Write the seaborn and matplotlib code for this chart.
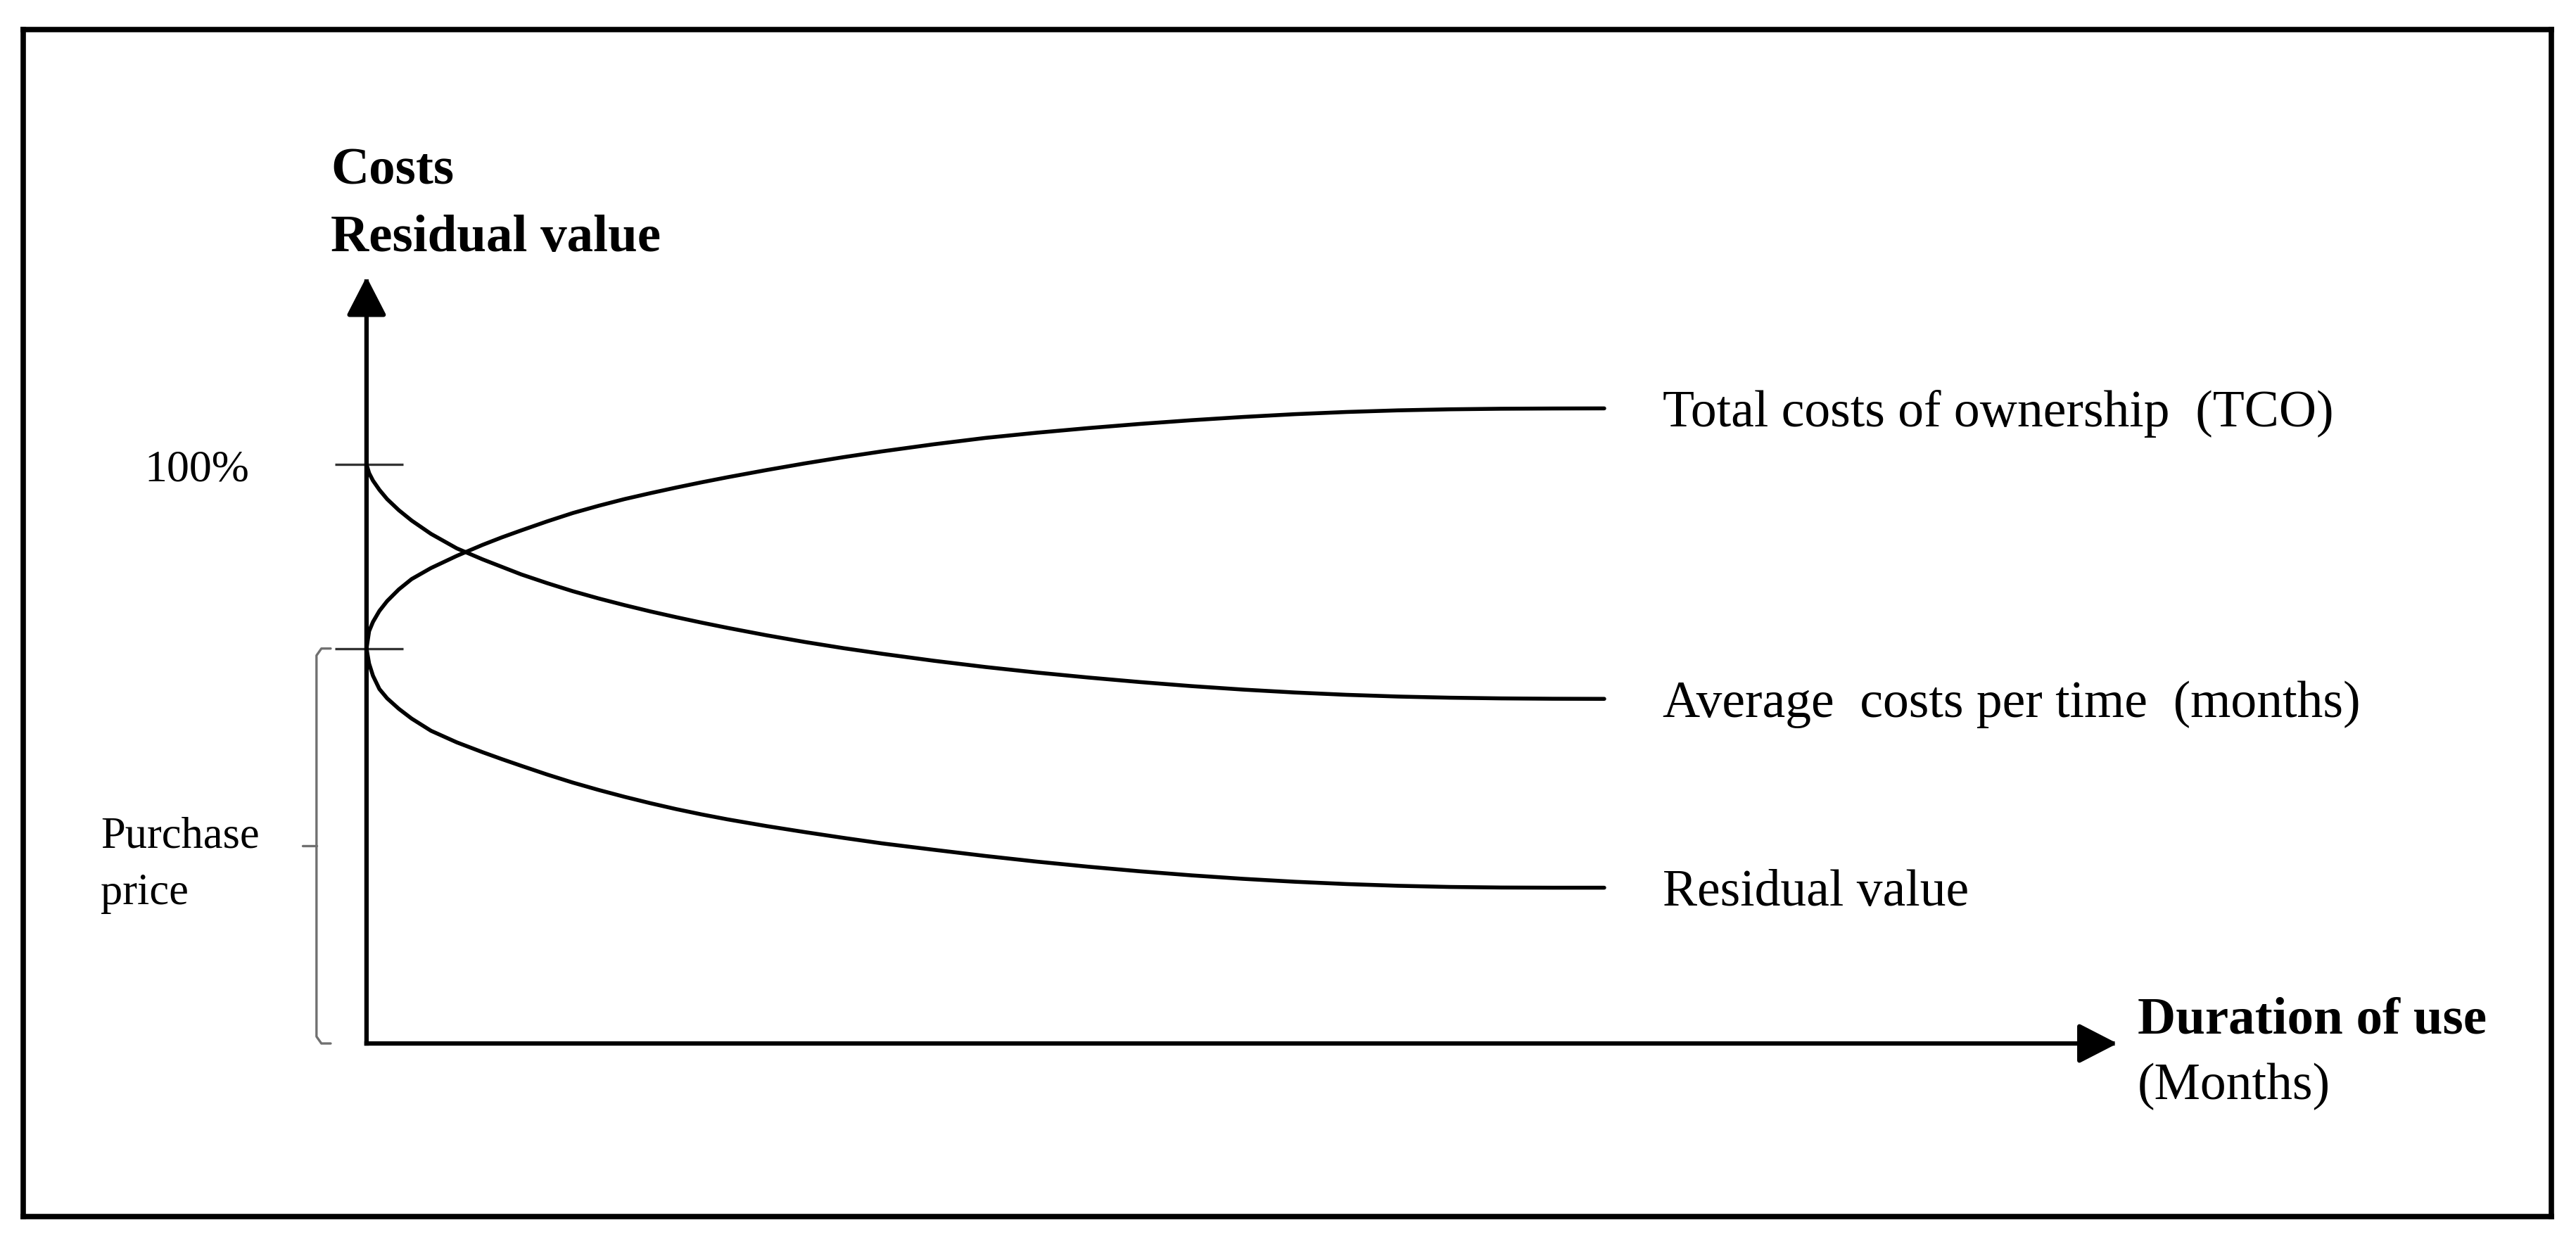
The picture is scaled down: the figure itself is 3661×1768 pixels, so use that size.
import numpy as np
import pandas as pd
import matplotlib.pyplot as plt
import seaborn as sns

# curve readings: duration of use (months) vs. % of the 100% level
months = [0, 0.1, 0.25, 0.5, 0.8, 1.25, 1.75, 2.5, 3.5, 4.5, 5.25, 6, 7, 8, 9, 10,
          11, 12, 13, 14, 15.5, 17, 18.5, 20, 22, 24, 26, 28, 30, 32, 34, 36,
          38, 40, 42, 44, 46, 48]
tco = [68.2, 71.2, 72.8, 74.7, 76.4, 78.4, 80.2, 82.1, 84.2, 86.1, 87.4, 88.6, 90.15,
       91.6, 92.85, 94.0, 95.02, 95.99, 96.91, 97.78, 99.01, 100.17, 101.25, 102.25,
       103.47, 104.57, 105.47, 106.27, 106.99, 107.63, 108.19, 108.67, 109.05, 109.33,
       109.51, 109.61, 109.65, 109.67]
avg_cost = [100.0, 98.5, 97.2, 95.6, 94.0, 92.1, 90.3, 88.0, 85.5, 83.6, 82.3, 81.0,
            79.5, 78.1, 76.85, 75.7, 74.62, 73.62, 72.67, 71.77, 70.5, 69.33, 68.26,
            67.29, 66.09, 65.01, 64.05, 63.19, 62.41, 61.71, 61.11, 60.61, 60.21, 59.91,
            59.71, 59.59, 59.53, 59.51]
residual = [68.2, 65.6, 63.5, 61.2, 59.6, 57.8, 56.1, 54.0, 52.0, 50.3, 49.1, 47.95,
            46.45, 45.05, 43.78, 42.6, 41.5, 40.48, 39.55, 38.7, 37.55, 36.5, 35.5,
            34.55, 33.45, 32.38, 31.4, 30.52, 29.73, 29.03, 28.43, 27.93, 27.53, 27.23,
            27.03, 26.93, 26.9, 26.9]

series_names = ["Total costs of ownership  (TCO)",
                "Average  costs per time  (months)",
                "Residual value"]
full_level = 100
purchase_price = tco[0]

n = len(months)
df = pd.DataFrame({
    "month": months * 3,
    "value": tco + avg_cost + residual,
    "series": [series_names[0]] * n + [series_names[1]] * n + [series_names[2]] * n,
})

sns.set_style("white")
plt.rcParams["font.family"] = ["Liberation Serif", "DejaVu Serif"]
plt.rcParams["text.color"] = "black"

fig = plt.figure(figsize=(36.62, 17.68), dpi=100)
ax = fig.add_axes([0.009148, 0.022059, 0.98102, 0.954468])
ax.set_xlim(-13.30, 84.73)
ax.set_ylim(-29.89, 175.15)

sns.lineplot(data=df, x="month", y="value", hue="series", palette=["black"] * 3,
             estimator=None, sort=False, legend=False, linewidth=4, ax=ax)
for line in ax.lines:
    line.set_solid_joinstyle("round")

# axes drawn as arrows
arrow_kw = dict(arrowstyle="-|>,head_length=3.4,head_width=1.75", color="black",
                lw=4.5, shrinkA=0, shrinkB=0, mutation_scale=10, capstyle="projecting")
ax.annotate("", xy=(0, 132.4), xytext=(0, 0), arrowprops=arrow_kw)
ax.annotate("", xy=(67.9, 0), xytext=(0, 0), arrowprops=arrow_kw)

# ticks at 100% and purchase price
ax.hlines([full_level, purchase_price], -1.23, 1.42, color="#333333", lw=2.4)

# purchase price bracket
bx = [-1.39, -1.75, -1.94, -1.94, -1.75, -1.39]
by = [purchase_price, purchase_price, purchase_price - 1.2, 1.2, 0, 0]
ax.plot(bx, by, color="#707070", lw=2.4, solid_joinstyle="round")
ax.plot([-2.48, -1.94], [purchase_price / 2] * 2, color="#707070", lw=2.4)

# texts
ax.text(-1.39, 148.4, "Costs", fontsize=54, fontweight="bold", va="baseline")
ax.text(-1.39, 136.8, "Residual value", fontsize=54, fontweight="bold", va="baseline")
ax.text(-6.58, 97.1, "100%", fontsize=46, ha="center", va="baseline")
ax.text(-10.31, 33.8, "Purchase", fontsize=45, va="baseline")
ax.text(-10.31, 24.1, "price", fontsize=45, va="baseline")
ax.text(68.68, 1.8, "Duration of use", fontsize=54, fontweight="bold", va="baseline")
ax.text(68.68, -9.6, "(Months)", fontsize=53, va="baseline")

for name, vals in zip(series_names, [tco, avg_cost, residual]):
    ax.text(50.26, vals[-1] - 3.1, name, fontsize=53, va="baseline")

ax.set_xticks([])
ax.set_yticks([])
ax.set_xlabel("")
ax.set_ylabel("")
for s in ax.spines.values():
    s.set_visible(True)
    s.set_linewidth(5.5)
    s.set_color("black")

fig.savefig("out.png", dpi=100)
